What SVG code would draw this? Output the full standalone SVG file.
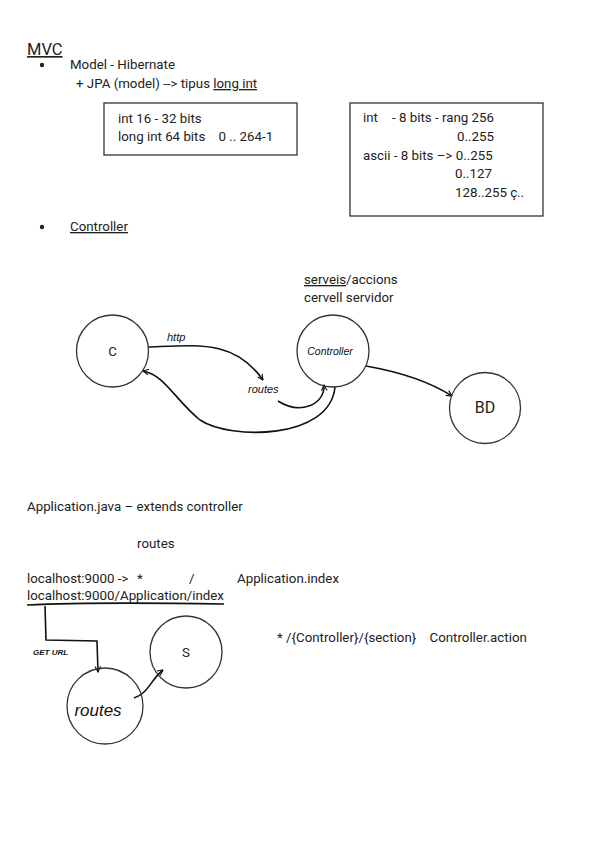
<svg xmlns="http://www.w3.org/2000/svg" width="601" height="848" viewBox="0 0 601 848">
<defs>
<style>
.t{font-family:Roboto,"Liberation Sans",sans-serif;fill:#222;font-size:13.3px}
.h{font-family:"Liberation Sans",sans-serif;fill:#111;font-style:italic;font-size:11px}
.c{fill:none;stroke:#333;stroke-width:1.3}
.b{fill:none;stroke:#333;stroke-width:1.3}
.e{fill:none;stroke:#111;stroke-width:1.6}
.ul{text-decoration:underline}
</style>
<marker id="ah" viewBox="0 0 10 10" refX="9" refY="5" markerWidth="7" markerHeight="7" orient="auto-start-reverse" markerUnits="userSpaceOnUse">
<path d="M1,1 L9,5 L1,9" fill="none" stroke="#111" stroke-width="1.6"/>
</marker>
</defs>
<rect width="601" height="848" fill="#fff"/>

<g id="header">
<text class="t ul" x="27" y="55" style="font-size:16.5px">MVC</text>
<circle cx="42" cy="65" r="2.2" fill="#222"/>
<text class="t" x="70" y="69">Model - Hibernate</text>
<text class="t" x="76" y="88">+ JPA (model) --&gt; tipus <tspan class="ul">long int</tspan></text>
</g>

<g id="box1">
<rect class="b" x="104" y="103" width="193" height="52"/>
<text class="t" x="118" y="123">int 16 - 32 bits</text>
<text class="t" x="118" y="141" xml:space="preserve">long int 64 bits    0 .. 264-1</text>
</g>

<g id="box2">
<rect class="b" x="350" y="103" width="193" height="113"/>
<text class="t" x="363" y="122">int</text>
<text class="t" x="392" y="122">- 8 bits - rang 256</text>
<text class="t" x="457" y="141">0..255</text>
<text class="t" x="363" y="160">ascii - 8 bits –&gt; 0..255</text>
<text class="t" x="455" y="178">0..127</text>
<text class="t" x="455" y="197">128..255 ç..</text>
</g>

<g id="controller-bullet">
<circle cx="42" cy="227" r="2.2" fill="#222"/>
<text class="t ul" x="70" y="231">Controller</text>
</g>

<g id="serveis-label">
<text class="t" x="304" y="284"><tspan class="ul">serveis</tspan>/accions</text>
<text class="t" x="304" y="302">cervell servidor</text>
</g>

<g id="connectors">
<path class="e" d="M148,347 C200,345 235,340 263,380" marker-end="url(#ah)"/>
<path class="e" d="M278,401 C300,415 325,405 324,385" marker-end="url(#ah)"/>
<path class="e" d="M335,387 C330,440 230,440 200,420 C175,400 165,375 143,371" marker-end="url(#ah)"/>
<path class="e" d="M366,366 C400,372 430,382 452,396" marker-end="url(#ah)"/>
<path class="e" d="M27,605 C90,602 160,603 224,604"/>
<path class="e" d="M45,606 L46,640 L97,641 L98,672" marker-end="url(#ah)"/>
<path class="e" d="M134,698 C148,694 152,678 163,670" marker-end="url(#ah)"/>
</g>

<g id="node-c">
<circle class="c" cx="112.5" cy="351" r="36"/>
<text class="t" x="112.5" y="352" text-anchor="middle" dominant-baseline="middle">C</text>
</g>
<g id="node-controller">
<circle class="c" cx="333" cy="351" r="36"/>
<text class="h" x="330" y="355" text-anchor="middle" style="font-size:10.5px">Controller</text>
</g>
<g id="node-bd">
<circle class="c" cx="485" cy="408" r="35.5"/>
<text class="t" x="485" y="409" text-anchor="middle" dominant-baseline="middle" style="font-size:16px">BD</text>
</g>
<g id="label-http"><text class="h" x="167" y="341">http</text></g>
<g id="label-routes"><text class="h" x="248" y="393">routes</text></g>

<g id="bottom-text">
<text class="t" x="27" y="511">Application.java – extends controller</text>
<text class="t" x="137" y="548">routes</text>
<text class="t" x="27" y="583">localhost:9000 -&gt;</text>
<text class="t" x="137" y="583">*</text>
<text class="t" x="189" y="583">/</text>
<text class="t" x="237" y="583">Application.index</text>
<text class="t" x="27" y="600">localhost:9000/Application/index</text>
<text class="t" x="277" y="642" xml:space="preserve">* /{Controller}/{section}    Controller.action</text>
</g>

<g id="label-get"><text class="h" x="33" y="655" style="font-size:8px;font-weight:bold">GET URL</text></g>
<g id="node-routes">
<circle class="c" cx="105" cy="706" r="38"/>
<text class="h" x="98" y="716" text-anchor="middle" style="font-size:17px">routes</text>
</g>
<g id="node-s">
<circle class="c" cx="186" cy="652" r="36"/>
<text class="t" x="186" y="653" text-anchor="middle" dominant-baseline="middle">S</text>
</g>
</svg>
